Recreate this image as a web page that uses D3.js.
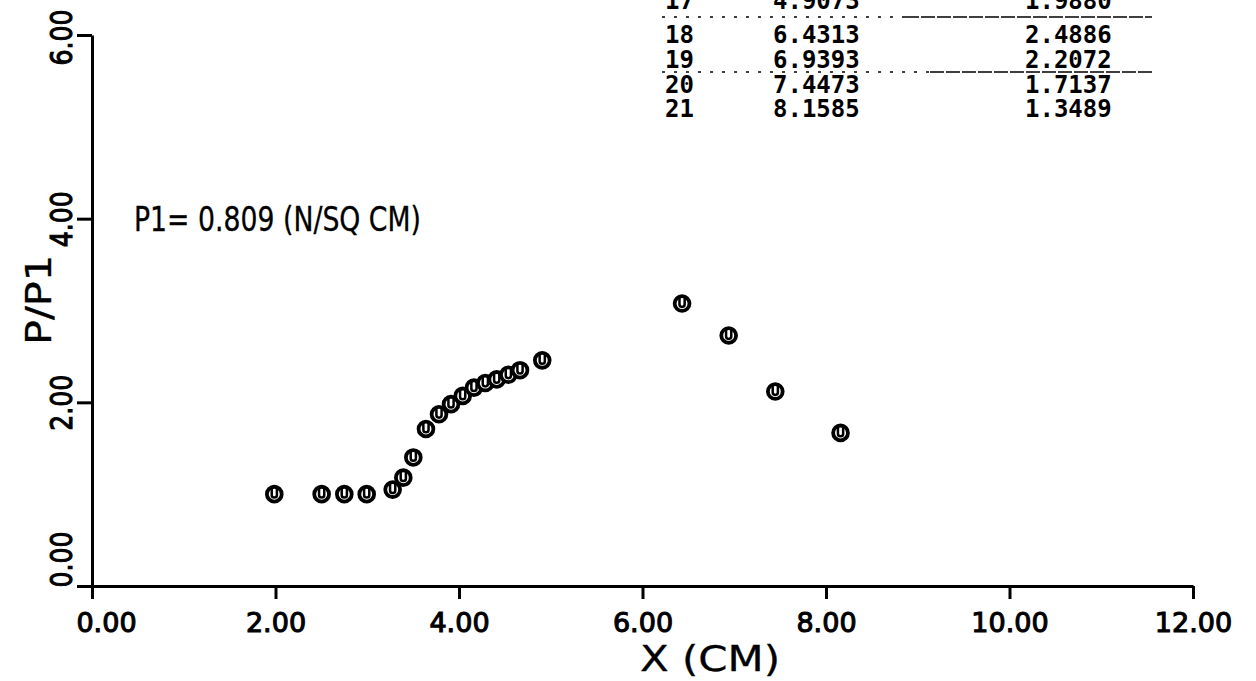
<!DOCTYPE html>
<html><head><meta charset="utf-8">
<script src="https://cdn.jsdelivr.net/npm/d3@7"></script>
<style>body{margin:0;background:#fff} svg{display:block}</style>
</head><body>
<svg id="c" width="1256" height="681"></svg>
<script>
// ---- data ----
const xCm   = [1.987, 2.503, 2.750, 2.994, 3.277, 3.393, 3.502, 3.640, 3.782, 3.913, 4.040,
               4.163, 4.287, 4.411, 4.538, 4.665, 4.9073, 6.4313, 6.9393, 7.4473, 8.1585];
const pRatio = [1.00, 1.00, 1.00, 1.00, 1.05, 1.18, 1.40, 1.71, 1.87, 1.98, 2.07,
               2.16, 2.21, 2.25, 2.30, 2.35, 2.457, 3.076, 2.728, 2.118, 1.667];
const xTicks = [0, 2, 4, 6, 8, 10, 12];
const yTicks = [0, 2, 4, 6];
const tableIdx = ["17", "18", "19", "20", "21"];
const tableX   = ["4.9073", "6.4313", "6.9393", "7.4473", "8.1585"];
const tableP   = ["1.9880", "2.4886", "2.2072", "1.7137", "1.3489"];
const noteText = "P1= 0.809 (N/SQ CM)";
const xTitle = "X (CM)";
const yTitle = "P/P1";

// ---- drawing ----
const svg = d3.select("#c");
const FONT = "'DejaVu Sans', sans-serif";
const x = d3.scaleLinear().domain([0, 12]).range([92, 1193]);
const y = d3.scaleLinear().domain([0, 6]).range([586, 35]);

const gx = svg.append("g").attr("transform", "translate(0,586)")
  .call(d3.axisBottom(x).tickValues(xTicks).tickSize(13).tickSizeOuter(0).tickFormat(d3.format(".2f")));
const gy = svg.append("g").attr("transform", "translate(92,0)")
  .call(d3.axisLeft(y).tickValues(yTicks).tickSize(15).tickSizeOuter(0).tickFormat(d3.format(".2f")));

[gx, gy].forEach(g => {
  g.select(".domain").attr("stroke", "#000").attr("stroke-width", 3);
  g.selectAll(".tick line").attr("stroke", "#000").attr("stroke-width", 3);
  g.selectAll(".tick text").attr("fill", "#000").attr("font-family", FONT)
    .attr("stroke", "#000").attr("stroke-width", 1.1);
});
gx.selectAll(".tick text").attr("font-size", 27).attr("dy", 0).attr("y", 46)
  .attr("x", d => d === 0 ? 14 : 0);
gy.selectAll(".tick text").attr("font-size", 30).attr("dy", 0)
  .attr("transform", "rotate(-90)").attr("text-anchor", "middle")
  .attr("y", -20).attr("x", d => d === 0 ? 27 : (d === 6 ? -2 : 0))
  .attr("textLength", 56).attr("lengthAdjust", "spacingAndGlyphs");

// axis titles
svg.append("text").attr("x", 710).attr("y", 671).attr("text-anchor", "middle")
  .attr("font-family", FONT).attr("font-size", 36).attr("fill", "#000")
  .attr("stroke", "#000").attr("stroke-width", 0.3)
  .attr("textLength", 140).attr("lengthAdjust", "spacingAndGlyphs").text(xTitle);
svg.append("text").attr("transform", "translate(51,300) rotate(-90)").attr("text-anchor", "middle")
  .attr("font-family", FONT).attr("font-size", 36).attr("fill", "#000")
  .attr("stroke", "#000").attr("stroke-width", 0.3)
  .attr("textLength", 90).attr("lengthAdjust", "spacingAndGlyphs").text(yTitle);

// annotation
svg.append("text").attr("x", 134).attr("y", 231)
  .attr("font-family", FONT).attr("font-size", 33).attr("fill", "#000")
  .attr("stroke", "#000").attr("stroke-width", 0.3)
  .attr("textLength", 287).attr("lengthAdjust", "spacingAndGlyphs").text(noteText);

// table
const rowY = [9, 43, 68, 93, 117];
const tbl = svg.append("g").attr("font-family", "'DejaVu Sans Mono', monospace")
  .attr("font-size", 24).attr("font-weight", "bold").attr("fill", "#000");
tableIdx.forEach((d, i) => {
  tbl.append("text").attr("x", 665).attr("y", rowY[i]).text(d);
  tbl.append("text").attr("x", 773).attr("y", rowY[i]).text(tableX[i]);
  tbl.append("text").attr("x", 1025).attr("y", rowY[i]).text(tableP[i]);
});
// separator lines (dotted on the left, solid on the right)
[[17, 905], [72, 930]].forEach(([ly, sx]) => {
  svg.append("line").attr("x1", 662).attr("x2", sx).attr("y1", ly).attr("y2", ly)
    .attr("stroke", "#000").attr("stroke-width", 1.5).attr("stroke-dasharray", "3 9");
  svg.append("line").attr("x1", sx).attr("x2", 1152).attr("y1", ly).attr("y2", ly)
    .attr("stroke", "#000").attr("stroke-width", 1.5).attr("stroke-dasharray", "14 2");
});

// markers
const pts = xCm.map((v, i) => ({ x: v, r: pRatio[i] }));
const m = svg.append("g").selectAll("g").data(pts).join("g")
  .attr("transform", d => `translate(${x(d.x)},${y(d.r)})`);
m.append("circle").attr("r", 7.4).attr("fill", "#fff").attr("stroke", "#000").attr("stroke-width", 3.8);
m.append("path").attr("d", "M-2.6,-6 L-2.6,0.8 Q-2.6,3.4 0,3.4 Q2.6,3.4 2.6,0.8 L2.6,-6")
  .attr("fill", "none").attr("stroke", "#000").attr("stroke-width", 2.5);
</script>
</body></html>
